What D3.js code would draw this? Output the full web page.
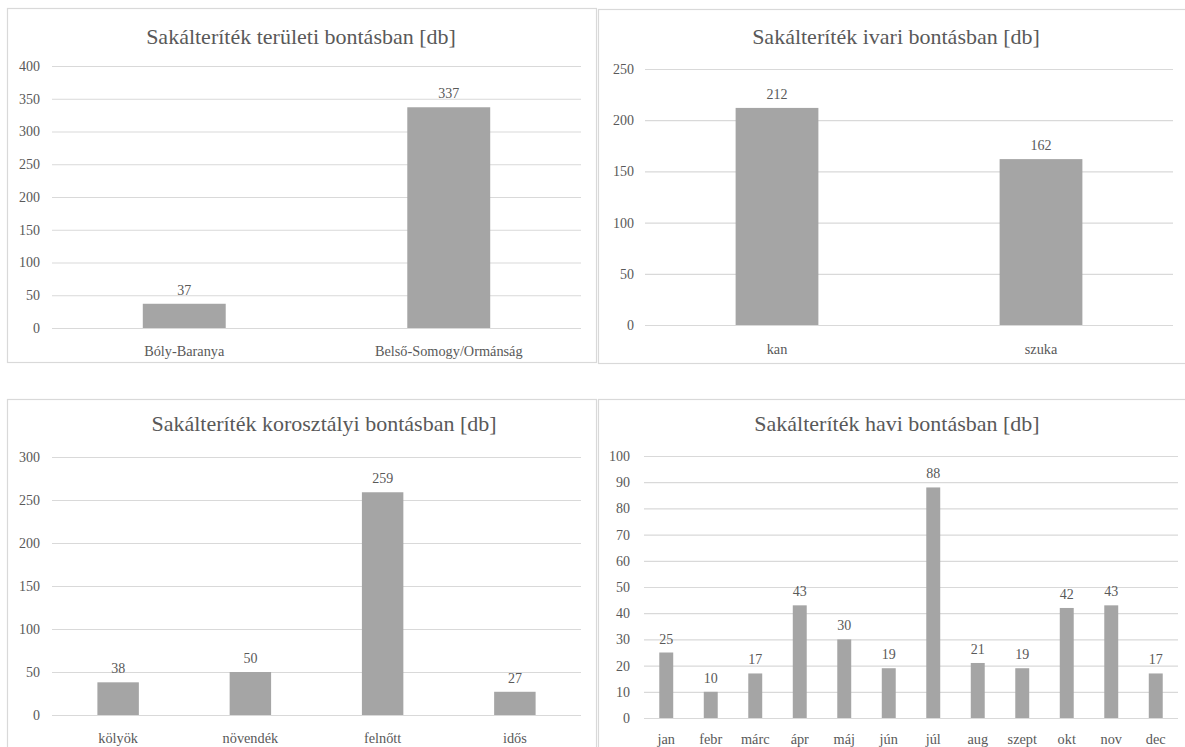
<!DOCTYPE html>
<html>
<head>
<meta charset="utf-8">
<script src="https://cdn.jsdelivr.net/npm/d3@7"></script>
<style>
  html, body { margin: 0; padding: 0; background: #ffffff; }
</style>
</head>
<body>
<svg id="chart" width="1185" height="747"></svg>
<script>
// Jackal harvest counts, four breakdowns
const areaCategories = ["Bóly-Baranya", "Belső-Somogy/Ormánság"];
const areaValues = [37, 337];
const areaTicks = [0, 50, 100, 150, 200, 250, 300, 350, 400];

const sexCategories = ["kan", "szuka"];
const sexValues = [212, 162];
const sexTicks = [0, 50, 100, 150, 200, 250];

const ageCategories = ["kölyök", "növendék", "felnőtt", "idős"];
const ageValues = [38, 50, 259, 27];
const ageTicks = [0, 50, 100, 150, 200, 250, 300];

const monthCategories = ["jan", "febr", "márc", "ápr", "máj", "jún", "júl", "aug", "szept", "okt", "nov", "dec"];
const monthValues = [25, 10, 17, 43, 30, 19, 88, 21, 19, 42, 43, 17];
const monthTicks = [0, 10, 20, 30, 40, 50, 60, 70, 80, 90, 100];

const titles = [
  "Sakálteríték területi bontásban [db]",
  "Sakálteríték ivari bontásban [db]",
  "Sakálteríték korosztályi bontásban [db]",
  "Sakálteríték havi bontásban [db]"
];

const svg = d3.select("#chart");

const FONT = "'Liberation Serif'";
const INK = "#595959";
const BAR = "#a5a5a5";
const GRID = "#d9d9d9";
const FRAME = "#d9d9d9";

// Panel geometry: frame box, title anchor, plot box
const panels = [
  { frame: [7.5, 8.5, 589, 354], titleX: 301, titleY: 44,
    plot: { x0: 52, x1: 581, yTop: 66, yBottom: 328 }, tickRight: 40, catY: 356,
    cats: areaCategories, vals: areaValues, ticks: areaTicks, title: titles[0] },
  { frame: [598.5, 9.5, 600, 354], titleX: 896, titleY: 44,
    plot: { x0: 645, x1: 1173, yTop: 69, yBottom: 325 }, tickRight: 634, catY: 354,
    cats: sexCategories, vals: sexValues, ticks: sexTicks, title: titles[1] },
  { frame: [7.5, 399.5, 589, 400], titleX: 324, titleY: 431,
    plot: { x0: 52, x1: 581, yTop: 457, yBottom: 715 }, tickRight: 40, catY: 743,
    cats: ageCategories, vals: ageValues, ticks: ageTicks, title: titles[2] },
  { frame: [598.5, 399.5, 600, 400], titleX: 897, titleY: 431,
    plot: { x0: 644, x1: 1178, yTop: 456, yBottom: 718 }, tickRight: 630, catY: 744,
    cats: monthCategories, vals: monthValues, ticks: monthTicks, title: titles[3] }
];

// set text font on each label after the axes have created them
function serif(sel, size) {
  sel.attr("font-family", FONT).attr("font-size", size).attr("fill", INK);
}

panels.forEach(p => {
  const g = svg.append("g");

  // chart frame
  g.append("rect")
    .attr("x", p.frame[0]).attr("y", p.frame[1])
    .attr("width", p.frame[2]).attr("height", p.frame[3])
    .attr("fill", "#ffffff").attr("stroke", FRAME).attr("stroke-width", 1.2);

  // title
  g.append("text")
    .attr("x", p.titleX).attr("y", p.titleY)
    .attr("text-anchor", "middle")
    .call(serif, 22)
    .text(p.title);

  const x = d3.scaleBand()
    .domain(p.cats)
    .range([p.plot.x0, p.plot.x1])
    .paddingInner(0.6865)
    .paddingOuter(0.34325);

  const y = d3.scaleLinear()
    .domain([0, d3.max(p.ticks)])
    .range([p.plot.yBottom, p.plot.yTop]);

  // horizontal gridlines via axis
  const yGrid = d3.axisLeft(y)
    .tickValues(p.ticks)
    .tickSize(-(p.plot.x1 - p.plot.x0))
    .tickFormat("");
  g.append("g")
    .attr("transform", `translate(${p.plot.x0},0)`)
    .call(yGrid)
    .call(s => s.select(".domain").remove())
    .call(s => s.selectAll("line").attr("stroke", GRID).attr("stroke-width", 1.2));

  // y tick labels via axis
  const yAxis = d3.axisLeft(y)
    .tickValues(p.ticks)
    .tickSize(0)
    .tickPadding(0);
  g.append("g")
    .attr("transform", `translate(${p.tickRight},0)`)
    .call(yAxis)
    .call(s => s.select(".domain").remove())
    .call(s => s.attr("font-family", null).attr("font-size", null))
    .call(s => s.selectAll("text").call(serif, 14));

  const rows = p.cats.map((c, i) => ({ c, v: p.vals[i] }));

  // bars
  g.selectAll("rect.bar")
    .data(rows)
    .join("rect")
    .attr("class", "bar")
    .attr("x", d => x(d.c))
    .attr("width", x.bandwidth())
    .attr("y", d => y(d.v))
    .attr("height", d => y(0) - y(d.v))
    .attr("fill", BAR);

  // value labels
  g.selectAll("text.val")
    .data(rows)
    .join("text")
    .attr("class", "val")
    .attr("x", d => x(d.c) + x.bandwidth() / 2)
    .attr("y", d => y(d.v) - 9)
    .attr("text-anchor", "middle")
    .call(serif, 14)
    .text(d => d.v);

  // category axis labels
  const xAxis = d3.axisBottom(x).tickSize(0).tickPadding(0);
  g.append("g")
    .attr("transform", `translate(0,${p.catY})`)
    .call(xAxis)
    .call(s => s.select(".domain").remove())
    .call(s => s.attr("font-family", null).attr("font-size", null))
    .call(s => s.selectAll("text").attr("dy", 0).call(serif, 14.3));
});
</script>
</body>
</html>
